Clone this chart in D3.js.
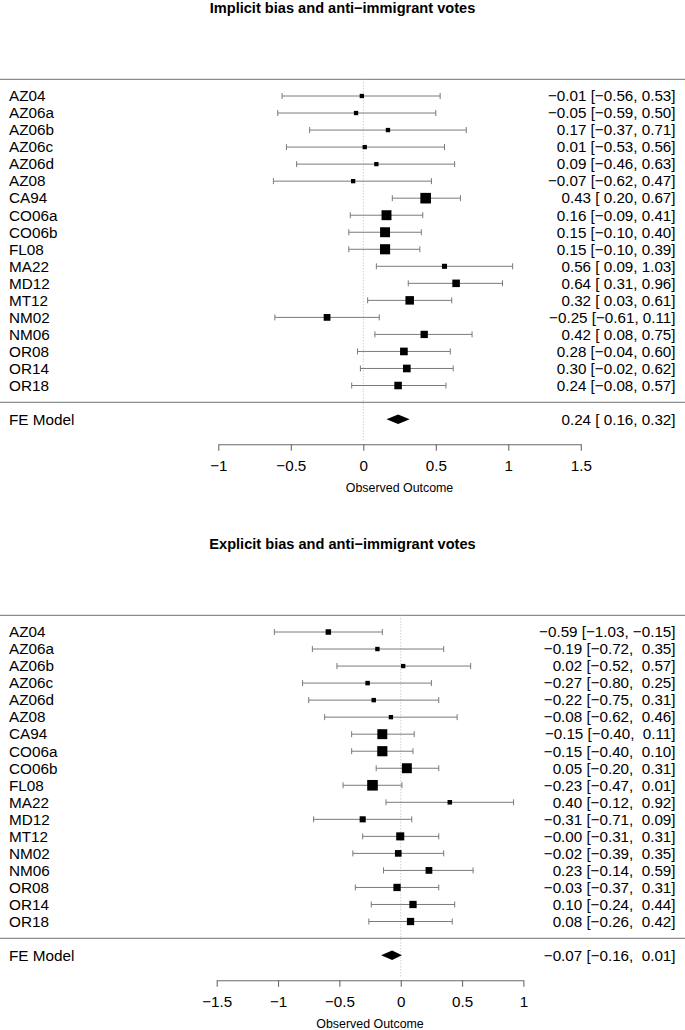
<!DOCTYPE html>
<html>
<head>
<meta charset="utf-8">
<script src="https://cdn.jsdelivr.net/npm/d3@7"></script>
<style>
body { margin: 0; background: #fff; }
text { font-family: "Liberation Sans", Arial, Helvetica, sans-serif; fill: #000; }
</style>
</head>
<body>
<svg id="chart" width="685" height="1030"></svg>
<script>
var studies = ["AZ04", "AZ06a", "AZ06b", "AZ06c", "AZ06d", "AZ08", "CA94", "CO06a", "CO06b",
  "FL08", "MA22", "MD12", "MT12", "NM02", "NM06", "OR08", "OR14", "OR18"];

var implicitEst = [-0.01, -0.05, 0.17, 0.01, 0.09, -0.07, 0.43, 0.16, 0.15, 0.15, 0.56, 0.64, 0.32, -0.25, 0.42, 0.28, 0.30, 0.24];
var implicitLo  = [-0.56, -0.59, -0.37, -0.53, -0.46, -0.62, 0.20, -0.09, -0.10, -0.10, 0.09, 0.31, 0.03, -0.61, 0.08, -0.04, -0.02, -0.08];
var implicitHi  = [0.53, 0.50, 0.71, 0.56, 0.63, 0.47, 0.67, 0.41, 0.40, 0.39, 1.03, 0.96, 0.61, 0.11, 0.75, 0.60, 0.62, 0.57];
var implicitFE  = [0.24, 0.16, 0.32];
var implicitTicks = [-1, -0.5, 0, 0.5, 1, 1.5];

var explicitEst = [-0.59, -0.19, 0.02, -0.27, -0.22, -0.08, -0.15, -0.15, 0.05, -0.23, 0.40, -0.31, -0.004, -0.02, 0.23, -0.03, 0.10, 0.08];
var explicitLo  = [-1.03, -0.72, -0.52, -0.80, -0.75, -0.62, -0.40, -0.40, -0.20, -0.47, -0.12, -0.71, -0.31, -0.39, -0.14, -0.37, -0.24, -0.26];
var explicitHi  = [-0.15, 0.35, 0.57, 0.25, 0.31, 0.46, 0.11, 0.10, 0.31, 0.01, 0.92, 0.09, 0.31, 0.35, 0.59, 0.31, 0.44, 0.42];
var explicitFE  = [-0.07, -0.16, 0.01];
var explicitTicks = [-1.5, -1, -0.5, 0, 0.5, 1];

var svg = d3.select("#chart");

function fmt(v) {
  return (v < 0 ? "\u2212" : "") + Math.abs(v).toFixed(2);
}

function padCol(vals) {
  var s = vals.map(fmt);
  var w = d3.max(s, function(d) { return d.length; });
  return s.map(function(d) { return d.padStart(w, " "); });
}

function forest(offsetY, title, est, lo, hi, fe, ticks, xRange) {
  var g = svg.append("g").attr("transform", "translate(0," + offsetY + ")");

  var x = d3.scaleLinear()
    .domain([ticks[0], ticks[ticks.length - 1]])
    .range(xRange);

  var y = d3.scalePoint()
    .domain(studies)
    .range([96, 96 + 17.03 * (studies.length - 1)]);

  var rows = studies.map(function(s, i) {
    return {name: s, est: est[i], lo: lo[i], hi: hi[i], w: 1 / (hi[i] - lo[i])};
  });

  var size = d3.scaleLinear()
    .domain(d3.extent(rows, function(d) { return d.w; }))
    .range([4.3, 10.6]);

  // annotation strings, padded like R does
  var loTxt = padCol(lo.concat([fe[1]]));
  var hiTxt = padCol(hi.concat([fe[2]]));
  rows.forEach(function(d, i) {
    d.label = fmt(d.est) + " [" + loTxt[i] + ", " + hiTxt[i] + "]";
  });
  var feLabel = fmt(fe[0]) + " [" + loTxt[studies.length] + ", " + hiTxt[studies.length] + "]";

  var feY = 419.3, topLine = 79.3, sepLine = 402.3, axisY = 444.3;

  g.append("text")
    .attr("x", 342.5)
    .attr("y", 12.5)
    .attr("text-anchor", "middle")
    .style("font-weight", "bold")
    .style("font-size", "14.6px")
    .text(title);

  g.selectAll("line.hline")
    .data([topLine, sepLine])
  .enter().append("line")
    .attr("class", "hline")
    .attr("x1", 0).attr("x2", 685)
    .attr("y1", function(d) { return d; })
    .attr("y2", function(d) { return d; })
    .attr("stroke", "#8c8c8c")
    .attr("stroke-width", 1.3);

  // reference line at zero
  g.append("line")
    .attr("x1", x(0)).attr("x2", x(0))
    .attr("y1", topLine).attr("y2", axisY - 2.5)
    .attr("stroke", "#a8a8a8")
    .attr("stroke-width", 0.8)
    .attr("stroke-dasharray", "1,2");

  var ci = g.selectAll("g.ci")
    .data(rows)
  .enter().append("g")
    .attr("class", "ci")
    .attr("stroke", "#7a7a7a")
    .attr("stroke-width", 1);

  ci.append("line")
    .attr("x1", function(d) { return x(d.lo); })
    .attr("x2", function(d) { return x(d.hi); })
    .attr("y1", function(d) { return y(d.name); })
    .attr("y2", function(d) { return y(d.name); });

  ci.selectAll("line.cap")
    .data(function(d) { return [{v: d.lo, n: d.name}, {v: d.hi, n: d.name}]; })
  .enter().append("line")
    .attr("class", "cap")
    .attr("x1", function(d) { return x(d.v); })
    .attr("x2", function(d) { return x(d.v); })
    .attr("y1", function(d) { return y(d.n) - 3; })
    .attr("y2", function(d) { return y(d.n) + 3; });

  g.selectAll("rect.pt")
    .data(rows)
  .enter().append("rect")
    .attr("class", "pt")
    .attr("x", function(d) { return x(d.est) - size(d.w) / 2; })
    .attr("y", function(d) { return y(d.name) - size(d.w) / 2; })
    .attr("width", function(d) { return size(d.w); })
    .attr("height", function(d) { return size(d.w); })
    .attr("fill", "#000");

  var lineGen = d3.line();
  g.append("path")
    .attr("d", lineGen([[x(fe[1]), feY], [x(fe[0]), feY - 4.8], [x(fe[2]), feY], [x(fe[0]), feY + 4.8]]) + "Z")
    .attr("fill", "#000");

  // left labels
  g.selectAll("text.study")
    .data(rows)
  .enter().append("text")
    .attr("class", "study")
    .attr("x", 9)
    .attr("y", function(d) { return y(d.name) + 5.3; })
    .style("font-size", "15.3px")
    .text(function(d) { return d.name; });

  g.append("text")
    .attr("x", 9)
    .attr("y", feY + 5.3)
    .style("font-size", "15.3px")
    .text("FE Model");

  // right annotations
  g.selectAll("text.annot")
    .data(rows)
  .enter().append("text")
    .attr("class", "annot")
    .attr("x", 675.5)
    .attr("y", function(d) { return y(d.name) + 5.3; })
    .attr("text-anchor", "end")
    .style("font-size", "15.2px")
    .style("white-space", "pre")
    .text(function(d) { return d.label; });

  g.append("text")
    .attr("x", 675.5)
    .attr("y", feY + 5.3)
    .attr("text-anchor", "end")
    .style("font-size", "15.2px")
    .style("white-space", "pre")
    .text(feLabel);

  // axis
  var xAxis = d3.axisBottom(x)
    .tickValues(ticks)
    .tickSize(6.5)
    .tickSizeOuter(0)
    .tickPadding(9.5)
    .tickFormat(function(d) { return d < 0 ? "\u2212" + Math.abs(d) : String(d); });

  var ax = g.append("g")
    .attr("transform", "translate(0," + axisY + ")")
    .call(xAxis);
  ax.select(".domain").attr("stroke", "#6a6a6a").attr("stroke-width", 1.1);
  ax.selectAll(".tick line").attr("stroke", "#6a6a6a").attr("stroke-width", 1.1);
  ax.selectAll(".tick text")
    .attr("fill", "#000")
    .style("font-size", "15.2px")
    .style("font-family", "\"Liberation Sans\", Arial, Helvetica, sans-serif");

  g.append("text")
    .attr("x", (xRange[0] + xRange[1]) / 2)
    .attr("y", 492)
    .attr("text-anchor", "middle")
    .style("font-size", "12.4px")
    .text("Observed Outcome");
}

forest(0, "Implicit bias and anti\u2212immigrant votes",
  implicitEst, implicitLo, implicitHi, implicitFE, implicitTicks, [218.3, 580.8]);

forest(536, "Explicit bias and anti\u2212immigrant votes",
  explicitEst, explicitLo, explicitHi, explicitFE, explicitTicks, [216.7, 523.4]);
</script>
</body>
</html>
